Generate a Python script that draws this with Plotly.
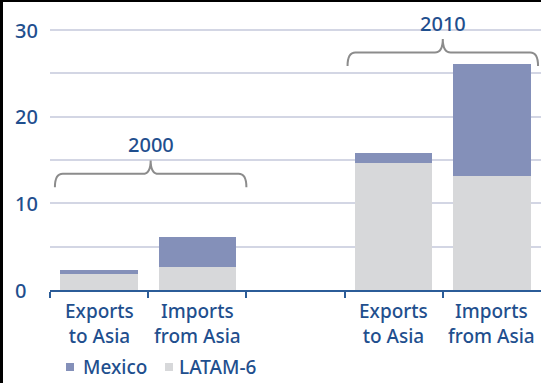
import plotly.graph_objects as go

# Trade with Asia, US$ billions
categories = ["Exports<br>to Asia", "Imports<br>from Asia", "Exports<br>to Asia", "Imports<br>from Asia"]
latam6 = [1.9, 2.6, 14.6, 13.1]
mexico = [0.4, 3.5, 1.2, 13.0]
years = ["2000", "2010"]
yticks = [0, 10, 20, 30]
series_names = ["Mexico", "LATAM-6"]

# layout constants
slots = [0, 1, 3, 4]            # x positions of the four bars (gap between the years)
year_spans = [(-0.45, 1.50, 13.4), (2.53, 4.47, 27.4)]   # bracket start, end, height
W, H = 541, 383
ML, MR, MT, MB = 50, 0, 4, 93
PW, PH = W - ML - MR, H - MT - MB

BLUE = "#1f4f8e"
AXIS = "#2b5c98"
C_MEX = "#8490b9"
C_LAT = "#d7d8da"
GRID = "#d3d6e4"
BRACE = "#8c8c8c"
FONT = "Noto Sans, Open Sans, sans-serif"
WEIGHT = 500


def px_x(p):
    return (p - ML) / PW


def px_y(p):
    return (H - MB - p) / PH


def txt_font(size):
    return dict(family=FONT, size=size, color=BLUE, weight=WEIGHT)


fig = go.Figure()
fig.add_trace(go.Bar(x=slots, y=latam6, name=series_names[1], marker_color=C_LAT,
                     marker_line_width=0, width=0.79, showlegend=False))
fig.add_trace(go.Bar(x=slots, y=mexico, name=series_names[0], marker_color=C_MEX,
                     marker_line_width=0, width=0.79, showlegend=False))

shapes = []
annotations = []

# curly braces over each year group
for (x0, x1, y), year in zip(year_spans, years):
    xm = (x0 + x1) / 2
    dx, h = 0.08, 1.55
    path = (f"M{x0},{y - h} Q{x0},{y} {x0 + dx},{y} L{xm - dx},{y} "
            f"Q{xm},{y} {xm},{y + h} Q{xm},{y} {xm + dx},{y} "
            f"L{x1 - dx},{y} Q{x1},{y} {x1},{y - h}")
    shapes.append(dict(type="path", path=path, xref="x", yref="y",
                       line=dict(color=BRACE, width=2)))
    annotations.append(dict(x=xm, y=y + 3.35, xref="x", yref="y", text=year,
                            showarrow=False, xanchor="center", yanchor="middle",
                            font=txt_font(20)))

# category labels under the bars
for xs, lab in zip(slots, categories):
    annotations.append(dict(x=xs, y=px_y(323), xref="x", yref="paper", text=lab,
                            showarrow=False, xanchor="center", yanchor="middle",
                            font=txt_font(19)))

# y tick labels, left aligned
for v in yticks:
    annotations.append(dict(x=px_x(13), y=v, xref="paper", yref="y", text=str(v),
                            showarrow=False, xanchor="left", yanchor="middle",
                            font=txt_font(20)))

# legend: coloured squares with names
legend_items = [(series_names[0], C_MEX, 66, 81), (series_names[1], C_LAT, 165, 177)]
for name, col, sq, tx in legend_items:
    shapes.append(dict(type="rect", xref="paper", yref="paper",
                       x0=px_x(sq), x1=px_x(sq + 8), y0=px_y(371), y1=px_y(363),
                       fillcolor=col, line=dict(width=0)))
    annotations.append(dict(x=px_x(tx), y=px_y(367), xref="paper", yref="paper",
                            text=name, showarrow=False, xanchor="left", yanchor="middle",
                            font=txt_font(19)))

# frame lines on the left and top edges
shapes.append(dict(type="rect", xref="paper", yref="paper", x0=px_x(0), x1=px_x(3),
                   y0=px_y(H), y1=px_y(0), fillcolor="black", line=dict(width=0)))
shapes.append(dict(type="rect", xref="paper", yref="paper", x0=px_x(0), x1=px_x(W),
                   y0=px_y(2), y1=px_y(0), fillcolor="black", line=dict(width=0)))

fig.update_layout(
    width=W, height=H,
    margin=dict(l=ML, r=MR, t=MT, b=MB, pad=0),
    paper_bgcolor="white", plot_bgcolor="white",
    barmode="stack",
    showlegend=False,
    shapes=shapes,
    annotations=annotations,
    xaxis=dict(range=[-0.5, 4.5], tickvals=[-0.5, 0.5, 1.5, 2.5, 3.5],
               showticklabels=False, ticks="outside", ticklen=6, tickwidth=1.5,
               tickcolor=AXIS, showline=True, linecolor=AXIS, linewidth=2,
               showgrid=False, zeroline=False, fixedrange=True),
    yaxis=dict(range=[0, 33], tickvals=[0, 5, 10, 15, 20, 25, 30],
               showticklabels=False, showgrid=True, gridcolor=GRID, gridwidth=1.5,
               zeroline=False, showline=False, fixedrange=True),
)

fig.write_html("out.html")
